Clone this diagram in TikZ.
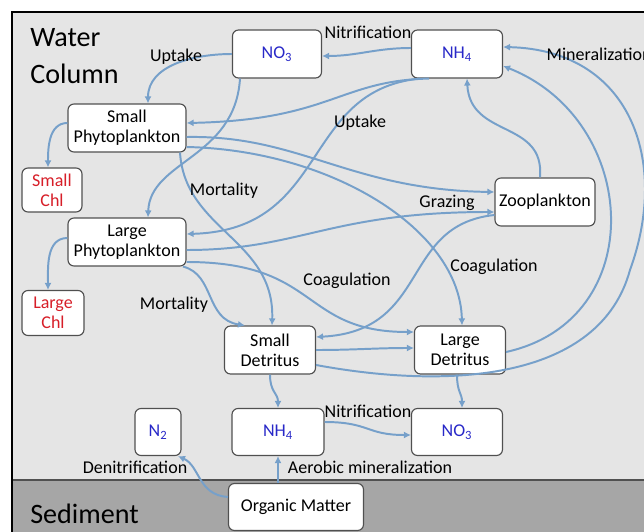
\documentclass[tikz,border=0pt]{standalone}
\usepackage{fontspec}
\setmainfont{Carlito}
\usetikzlibrary{arrows.meta}

\definecolor{wasser}{RGB}{229,229,229}
\definecolor{boden}{RGB}{166,166,166}
\definecolor{rand}{RGB}{80,80,80}
\definecolor{pfeil}{RGB}{118,160,202}
\definecolor{nblau}{RGB}{40,40,200}
\definecolor{crot}{RGB}{215,30,40}

\tikzset{
	box/.style={draw=rand, line width=0.8pt, fill=white, rounded corners=1.5mm, align=center,
		minimum height=12mm, inner sep=1pt, font=\fontsize{12.8}{14}\selectfont},
	fluss/.style={draw=pfeil, line width=1.4pt, -{Latex[length=5pt,width=5pt]}},
	beschr/.style={inner sep=1pt, font=\fontsize{12.8}{14}\selectfont},
	titel/.style={inner sep=0pt, anchor=west, align=left, font=\fontsize{20}{26}\selectfont}
}

\begin{document}
\begin{tikzpicture}[x=0.25mm,y=-0.25mm]
	\useasboundingbox (0,0) rectangle (644,532);
%%% Hintergrund: Wassersaeule und Sediment
	\draw[fill=wasser, line width=0.8pt] (12,12) rectangle (660,545);
	\fill[boden] (12,480) rectangle (660,545);
	\draw[rand, line width=0.8pt] (12,480) -- (660,480);
	\draw[line width=0.8pt] (12,12) -- (12,545);
	\node[titel] (wc) at (30,56) {Water\\Column};
	\node[titel] (sed) at (30,514) {Sediment};
%%% Kaesten
	\node[box, minimum width=22.25mm, text=nblau] (no3w) at (277,54) {NO\textsubscript{3}};
	\node[box, minimum width=22.75mm, text=nblau] (nh4w) at (457,54) {NH\textsubscript{4}};
	\node[box, minimum width=29.5mm] (sphy) at (127,128) {Small\\Phytoplankton};
	\node[box, minimum width=15mm, minimum height=11mm, text=crot] (schl) at (52,190) {Small\\Chl};
	\node[box, minimum width=29.5mm] (lphy) at (127,242) {Large\\Phytoplankton};
	\node[box, minimum width=15.5mm, minimum height=11.25mm, text=crot] (lchl) at (53,313) {Large\\Chl};
	\node[box, minimum width=25mm] (zoo) at (545,202) {Zooplankton};
	\node[box, minimum width=22.75mm] (sdet) at (270,350) {Small\\Detritus};
	\node[box, minimum width=22.75mm] (ldet) at (460,350) {Large\\Detritus};
	\node[box, minimum width=11.5mm, minimum height=11.75mm, text=nblau] (ntwo) at (158,432) {N\textsubscript{2}};
	\node[box, minimum width=23mm, minimum height=11.75mm, text=nblau] (nh4s) at (278,432) {NH\textsubscript{4}};
	\node[box, minimum width=22.75mm, minimum height=11.75mm, text=nblau] (no3s) at (457,432) {NO\textsubscript{3}};
	\node[box, minimum width=33.75mm, minimum height=11.75mm] (om) at (296,507) {Organic Matter};
%%% Aufnahme der Naehrstoffe
	\draw[fluss] (no3w.west) to[out=180,in=90] ([xshift=5.25mm]sphy.north);
	\draw[fluss] ([xshift=-9.25mm]no3w.south) .. controls +(-5,80) and +(2,-57) .. ([xshift=5.25mm]lphy.north);
	\draw[fluss] ([xshift=-7mm]nh4w.south) .. controls +(-90,2) and +(144,-3) .. ([yshift=1.25mm]sphy.east);
	\draw[fluss] ([xshift=-9.25mm]nh4w.south) .. controls +(-120,12) and +(144,-4) .. ([yshift=2mm]lphy.east);
	\draw[fluss] ([yshift=1.5mm]nh4w.west) to[out=180,in=0] ([yshift=-0.5mm]no3w.east);
%%% Chlorophyll
	\draw[fluss] ([yshift=1.25mm]sphy.west) to[out=180,in=90] ([xshift=-1mm]schl.north);
	\draw[fluss] ([yshift=1mm]lphy.west) to[out=180,in=90] ([xshift=-1.25mm]lchl.north);
%%% Fressen, Sterben, Koagulation
	\draw[fluss] ([yshift=-2.25mm]sphy.east) .. controls +(114,-2) and +(-145,-2) .. ([yshift=2.5mm]zoo.west);
	\draw[fluss] ([yshift=-2mm]lphy.east) .. controls +(114,0) and +(-165,0) .. ([yshift=-2.5mm]zoo.west);
	\draw[fluss] ([yshift=-4.75mm]sphy.east) .. controls +(144,3) and +(-2,-96) .. ([xshift=0.5mm]ldet.north);
	\draw[fluss] ([xshift=13.25mm]sphy.south) .. controls +(5,78) and +(3,-86) .. ([xshift=0.5mm]sdet.north);
	\draw[fluss] ([xshift=14mm]lphy.south) .. controls +(32,8) and +(-40,-6) .. ([xshift=-6.25mm]sdet.north);
	\draw[fluss] ([yshift=-5mm]lphy.east) .. controls +(134,0) and +(-114,0) .. ([yshift=4.5mm]ldet.west);
	\draw[fluss] ([yshift=-3.25mm]zoo.west) .. controls +(-95,10) and +(115,-6) .. ([yshift=3.25mm]sdet.east);
	\draw[fluss] ([xshift=-1.25mm]zoo.north) .. controls +(5,-58) and +(3,60) .. ([xshift=2.5mm]nh4w.south);
	\draw[fluss] (sdet.east) to[out=0,in=180] ([yshift=0.5mm]ldet.west);
%%% Remineralisierung
	\draw[fluss] ([yshift=-0.5mm]ldet.east) .. controls +(145,-32) and +(137,54) .. ([yshift=-3mm]nh4w.east);
	\draw[fluss] ([yshift=-3.75mm]sdet.east) .. controls +(135,25) and +(-30,110) .. (630,270)
		.. controls +(40,-110) and +(127,3) .. ([yshift=1.75mm]nh4w.east);
	\draw[fluss] (sdet.south) .. controls +(0,18) and +(0,-15) .. (nh4s.north);
	\draw[fluss] ([xshift=-0.75mm]ldet.south) .. controls +(0,18) and +(0,-15) .. ([xshift=1.25mm]no3s.north);
	\draw[fluss] ([yshift=2.5mm]nh4s.east) .. controls +(45,0) and +(-45,0) .. ([yshift=-0.75mm]no3s.west);
%%% Sediment
	\draw[fluss] ([xshift=-4.5mm]om.north) -- (nh4s.south);
	\draw[fluss] ([yshift=2.5mm]om.west) .. controls +(-30,-2) and +(22,10) .. ([xshift=5mm]ntwo.south);
%%% Beschriftung der Fluesse
	\foreach \x/\y/\txt [count=\n] in {176/57/Uptake, 368/32/Nitrification, 360/123/Uptake,
		224/191/Mortality, 447/203/Grazing, 494/267/Coagulation, 347/281/Coagulation,
		174/305/Mortality, 368/411/Nitrification, 135/467/Denitrification,
		370/467/Aerobic mineralization}{
		\node[beschr] (lbl\n) at (\x,\y) {\txt};
	}
	\node[beschr, anchor=west] (lblmin) at (545,54) {Mineralization};
\end{tikzpicture}
\end{document}
